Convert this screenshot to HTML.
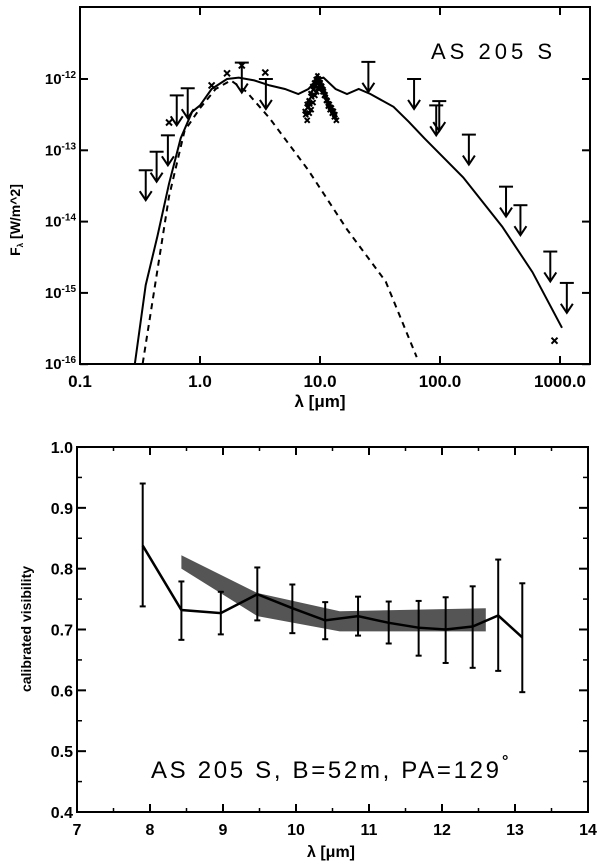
<!DOCTYPE html>
<html><head><meta charset="utf-8"><style>
html,body{margin:0;padding:0;background:#fff;width:600px;height:863px;overflow:hidden}
svg{display:block;font-family:"Liberation Sans",sans-serif}
</style></head><body>
<svg id="s" width="600" height="863" viewBox="0 0 600 863">
<g id="top"></g>
<g id="bot"></g>
</svg>
<script>
// ---- SED data ----
const modelLam=[0.287,0.353,0.442,0.552,0.69,0.86,1.0,1.25,1.68,2.1,2.83,3.8,5.1,6.6,8.0,9.6,10.7,13.5,16.8,21,26.3,41,55,74,156,330,590,800,1040];
const modelLogF=[-15.99,-14.89,-14.2,-13.47,-12.83,-12.46,-12.37,-12.14,-12.0,-11.98,-12.02,-12.09,-12.14,-12.21,-12.14,-12.0,-11.98,-12.14,-12.21,-12.14,-12.21,-12.39,-12.6,-12.83,-13.38,-14.07,-14.71,-15.13,-15.49];
const starLam=[0.333,0.41,0.552,0.743,1.0,1.35,1.81,2.44,3.8,8.0,16.8,35.3,64];
const starLogF=[-15.99,-15.03,-13.65,-12.73,-12.41,-12.14,-12.02,-12.18,-12.55,-13.28,-14.11,-14.84,-15.9];
const ulLam=[0.353,0.435,0.54,0.64,0.79,2.23,3.54,25.3,60.8,93,98.6,174,355,468,830,1140];
const ulLogF=[-13.28,-13.02,-12.79,-12.23,-12.13,-11.77,-12.0,-11.76,-12.0,-12.37,-12.31,-12.78,-13.51,-13.77,-14.42,-14.86];
const detLam=[0.552,1.25,1.68,2.23,3.5,900];
const detLogF=[-12.61,-12.09,-11.92,-11.81,-11.91,-15.67];
const specLam=[7.6,7.9,8.2,8.5,8.8,9.1,9.4,9.7,10.0,10.3,10.6,11.0,11.4,11.8,12.3,12.8,13.3];
const specLogF=[-12.5,-12.4,-12.35,-12.25,-12.15,-12.1,-12.05,-12.0,-12.05,-12.1,-12.15,-12.22,-12.3,-12.35,-12.4,-12.45,-12.5];
const xTickLabels=["0.1","1.0","10.0","100.0","1000.0"];
const yTickExp=["-12","-13","-14","-15","-16"];
// ---- Visibility data ----
const visLam=[7.9,8.43,8.97,9.47,9.95,10.4,10.85,11.27,11.68,12.05,12.42,12.77,13.1];
const visVal=[0.838,0.732,0.727,0.758,0.735,0.715,0.722,0.711,0.703,0.700,0.705,0.723,0.687];
const visLo=[0.738,0.683,0.692,0.715,0.694,0.684,0.690,0.677,0.657,0.645,0.637,0.632,0.597];
const visHi=[0.940,0.779,0.762,0.802,0.774,0.745,0.754,0.746,0.747,0.753,0.771,0.815,0.776];
const bandLam=[8.43,9.47,10.6,12.6];
const bandHi=[0.822,0.76,0.73,0.735];
const bandLo=[0.800,0.722,0.697,0.697];
const visXTicks=["7","8","9","10","11","12","13","14"];
const visYTicks=["0.4","0.5","0.6","0.7","0.8","0.9","1.0"];

const NS="http://www.w3.org/2000/svg";
function mk(parent,tag,attrs){const e=document.createElementNS(NS,tag);for(const k in attrs)e.setAttribute(k,attrs[k]);parent.appendChild(e);return e;}
// top axes
const T=document.getElementById('top');
const tx=l=>80+(Math.log10(l)+1)*120;
const ty=lf=>79-(lf+12)*71.3;
let f=mk(T,'rect',{x:80,y:7,width:510,height:357,fill:'none',stroke:'#000','stroke-width':2});

xTickLabels.forEach((s,i)=>{const x=tx(Math.pow(10,i-1));
 mk(T,'line',{x1:x,y1:364,x2:x,y2:356,stroke:'#000','stroke-width':2});
 mk(T,'line',{x1:x,y1:7,x2:x,y2:15,stroke:'#000','stroke-width':2});
 const t=mk(T,'text',{x:x,y:387,'text-anchor':'middle','font-size':17,'font-weight':'bold'});t.textContent=s;
 });
yTickExp.forEach((s,i)=>{const y=ty(-12-i);
 mk(T,'line',{x1:80,y1:y,x2:88,y2:y,stroke:'#000','stroke-width':2});
 mk(T,'line',{x1:590,y1:y,x2:582,y2:y,stroke:'#000','stroke-width':2});
 const t=mk(T,'text',{x:76,y:y+5,'text-anchor':'end','font-size':15,'font-weight':'bold'});
 t.innerHTML='10<tspan dy="-6" font-size="10">'+s+'</tspan>';
 });
let tt=mk(T,'text',{x:320,y:407,'text-anchor':'middle','font-size':17,'font-weight':'bold'});tt.textContent='λ  [μm]';

tt=mk(T,'text',{x:0,y:0,'text-anchor':'middle','font-size':14,'font-weight':'bold',transform:'translate(20,220) rotate(-90)'});tt.innerHTML='F<tspan font-size="8" dy="3">λ</tspan><tspan dy="-3"> [W/m^2]</tspan>';

tt=mk(T,'text',{x:431,y:59,'font-size':22,textLength:121,lengthAdjust:'spacing'});tt.textContent='AS 205 S';

let p=mk(T,'path',{d:modelLam.map((l,i)=>(i?'L':'M')+tx(l).toFixed(1)+','+ty(modelLogF[i]).toFixed(1)).join(''),fill:'none',stroke:'#000','stroke-width':2});

p=mk(T,'path',{d:starLam.map((l,i)=>(i?'L':'M')+tx(l).toFixed(1)+','+ty(starLogF[i]).toFixed(1)).join(''),fill:'none',stroke:'#000','stroke-width':2,'stroke-dasharray':'6,5'});

ulLam.forEach((l,i)=>{const x=tx(l),y=ty(ulLogF[i]),y2=ty(ulLogF[i]-0.42);
 const g=mk(T,'g',{stroke:'#000','stroke-width':2,fill:'none'});
 
 mk(g,'line',{x1:x-7,y1:y,x2:x+7,y2:y});mk(g,'line',{x1:x,y1:y,x2:x,y2:y2});
 mk(g,'path',{d:`M${x-6},${y2-9}L${x},${y2}L${x+6},${y2-9}`});});
function cross(g,x,y,r){mk(g,'path',{d:`M${x-r},${y-r}L${x+r},${y+r}M${x-r},${y+r}L${x+r},${y-r}`,stroke:'#000','stroke-width':2});}
detLam.forEach((l,i)=>{const g=mk(T,'g',{});cross(g,tx(l),ty(detLogF[i]),3);});
specLam.forEach((l,i)=>{const g=mk(T,'g',{});
 cross(g,tx(l),ty(specLogF[i]),2.5);cross(g,tx(l)+1.5,ty(specLogF[i]-0.08),2.5);cross(g,tx(l)-1,ty(specLogF[i]+0.05),2);});
// bottom axes
const B=document.getElementById('bot');
const bx=v=>77+(v-7)*73;
const by=v=>812-(v-0.4)*608.3;
f=mk(B,'rect',{x:77,y:447,width:511,height:365,fill:'none',stroke:'#000','stroke-width':2});

visXTicks.forEach(s=>{const x=bx(+s);
 mk(B,'line',{x1:x,y1:812,x2:x,y2:804,stroke:'#000','stroke-width':2});
 mk(B,'line',{x1:x,y1:447,x2:x,y2:455,stroke:'#000','stroke-width':2});
 if(+s<14){mk(B,'line',{x1:bx(+s+0.5),y1:812,x2:bx(+s+0.5),y2:808,stroke:'#000','stroke-width':1.5});mk(B,'line',{x1:bx(+s+0.5),y1:447,x2:bx(+s+0.5),y2:451,stroke:'#000','stroke-width':1.5});}
 const t=mk(B,'text',{x:x,y:835,'text-anchor':'middle','font-size':16,'font-weight':'bold'});t.textContent=s;
 });
visYTicks.forEach(s=>{const y=by(+s);
 mk(B,'line',{x1:77,y1:y,x2:86,y2:y,stroke:'#000','stroke-width':2});
 mk(B,'line',{x1:588,y1:y,x2:579,y2:y,stroke:'#000','stroke-width':2});
 if(+s<1){const ym=by(+s+0.05);mk(B,'line',{x1:77,y1:ym,x2:82,y2:ym,stroke:'#000','stroke-width':1.5});mk(B,'line',{x1:588,y1:ym,x2:583,y2:ym,stroke:'#000','stroke-width':1.5});}
 const t=mk(B,'text',{x:73,y:y+6,'text-anchor':'end','font-size':16,'font-weight':'bold'});t.textContent=s;
 });
tt=mk(B,'text',{x:331,y:857,'text-anchor':'middle','font-size':16,'font-weight':'bold'});tt.textContent='λ [μm]';

tt=mk(B,'text',{x:0,y:0,'text-anchor':'middle','font-size':14,'font-weight':'bold',transform:'translate(31,629) rotate(-90)'});tt.textContent='calibrated visibility';

tt=mk(B,'text',{x:151,y:778,'font-size':24,textLength:348,lengthAdjust:'spacing'});tt.textContent='AS 205 S, B=52m, PA=129';

tt=mk(B,'text',{x:502,y:766,'font-size':16,'font-weight':'bold'});tt.textContent='°';

let d=bandLam.map((l,i)=>(i?'L':'M')+bx(l)+','+by(bandHi[i])).join('');
for(let i=bandLam.length-1;i>=0;i--)d+='L'+bx(bandLam[i])+','+by(bandLo[i]);
p=mk(B,'path',{d:d+'Z',fill:'#555'});
p=mk(B,'path',{d:visLam.map((l,i)=>(i?'L':'M')+bx(l)+','+by(visVal[i])).join(''),fill:'none',stroke:'#000','stroke-width':2.5});

visLam.forEach((l,i)=>{const x=bx(l),g=mk(B,'g',{stroke:'#000','stroke-width':2});
 
 mk(g,'line',{x1:x,y1:by(visLo[i]),x2:x,y2:by(visHi[i])});
 mk(g,'line',{x1:x-3,y1:by(visLo[i]),x2:x+3,y2:by(visLo[i])});
 mk(g,'line',{x1:x-3,y1:by(visHi[i]),x2:x+3,y2:by(visHi[i])});});
</script>
</body></html>
